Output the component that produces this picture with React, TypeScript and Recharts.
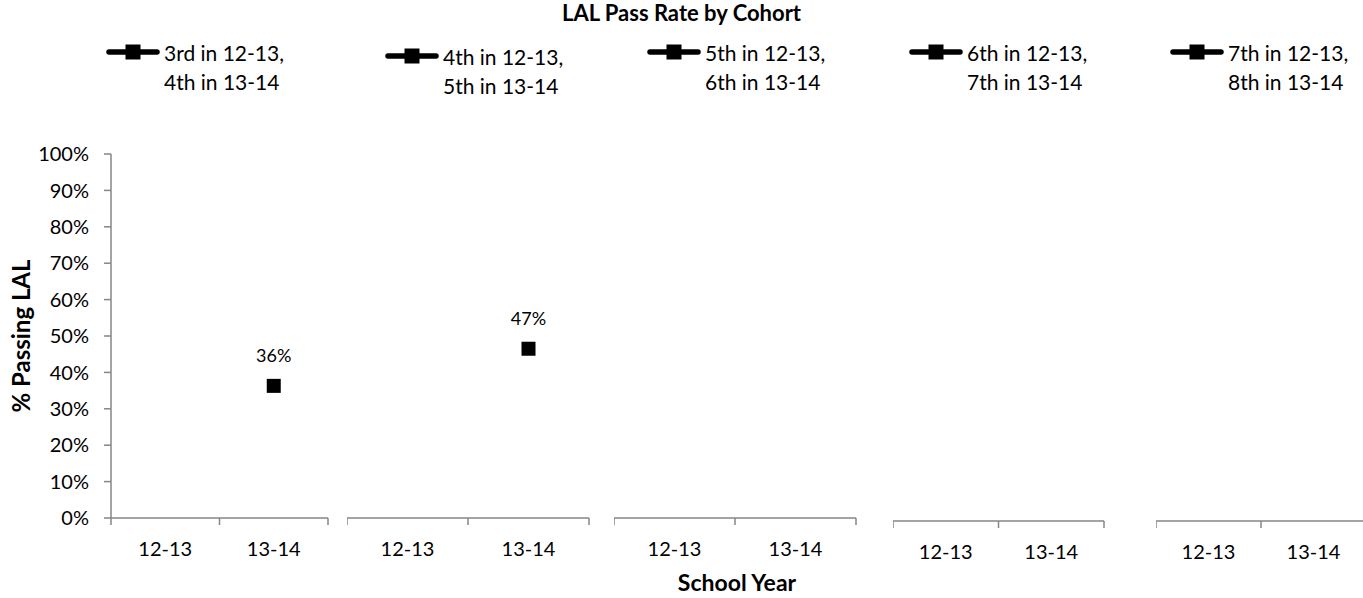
import React from 'react';
import { LineChart, Line, XAxis, YAxis, LabelList } from 'recharts';

// ---------- data ----------
const years = ['12-13', '13-14'];
const legendLine1 = ['3rd in 12-13,', '4th in 12-13,', '5th in 12-13,', '6th in 12-13,', '7th in 12-13,'];
const legendLine2 = ['4th in 13-14', '5th in 13-14', '6th in 13-14', '7th in 13-14', '8th in 13-14'];
const cohort1: (number | null)[] = [null, 36.3];
const cohort2: (number | null)[] = [null, 46.5];
const cohort3: (number | null)[] = [null, null];
const cohort4: (number | null)[] = [null, null];
const cohort5: (number | null)[] = [null, null];
const yTicks = [0, 10, 20, 30, 40, 50, 60, 70, 80, 90, 100];
const chartTitle = 'LAL Pass Rate by Cohort';
const yAxisTitle = '% Passing LAL';
const xAxisTitle = 'School Year';

const seriesList = [cohort1, cohort2, cohort3, cohort4, cohort5];

// ---------- layout ----------
const W = 1363;
const H = 598;
const PLOT_TOP = 154;
const PLOT_BOTTOM = 518;
const X_AXIS_H = 50;
const FONT = 'Lato, "Open Sans", sans-serif';
const AXIS_COLOR = '#868686';
const panels = [
  { start: 111, end: 328, dy: 0 },
  { start: 347, end: 589, dy: 0 },
  { start: 614, end: 856, dy: 0 },
  { start: 893, end: 1104, dy: 3 },
  { start: 1156, end: 1366, dy: 3 },
];
const legendPos = [
  { x: 106, y: 52 },
  { x: 385, y: 56 },
  { x: 647, y: 52 },
  { x: 909, y: 52 },
  { x: 1170, y: 52 },
];

const renderDot = (props: any) => {
  const { cx, cy, index } = props;
  if (cy == null || cx == null || Number.isNaN(cy)) return <g key={`d${index}`} />;
  return <rect key={`d${index}`} x={cx - 7} y={cy - 7} width={14} height={14} fill="#000" />;
};

function Panel({ idx }: { idx: number }) {
  const p = panels[idx];
  const first = idx === 0;
  const yAxisW = first ? p.start : 0;
  const left = first ? 0 : p.start;
  const pw = p.end - p.start;
  const width = yAxisW + pw + 2;
  const data = years.map((year, i) => ({ year, value: seriesList[idx][i] }));
  const bw = pw / years.length;

  const renderTick = (props: any) => {
    const { x, y, payload, index } = props;
    const ax = PLOT_BOTTOM;
    return (
      <g>
        <line x1={x - bw / 2} x2={x - bw / 2} y1={ax} y2={ax + 7} stroke={AXIS_COLOR} strokeWidth={1.5} />
        {index === years.length - 1 && (
          <line x1={x + bw / 2} x2={x + bw / 2} y1={ax} y2={ax + 7} stroke={AXIS_COLOR} strokeWidth={1.5} />
        )}
        <text x={x} y={y} dy="0.71em" textAnchor="middle" fill="#000" fontSize={20} fontFamily={FONT}>
          {payload.value}
        </text>
      </g>
    );
  };

  return (
    <div style={{ position: 'absolute', left, top: p.dy }}>
      <LineChart
        width={width}
        height={H}
        data={data}
        margin={{ top: PLOT_TOP, right: 2, bottom: H - PLOT_BOTTOM - X_AXIS_H, left: 0 }}
      >
        <XAxis
          dataKey="year"
          scale="band"
          height={X_AXIS_H}
          axisLine={{ stroke: AXIS_COLOR, strokeWidth: 1.5 }}
          tickLine={false}
          tickSize={7}
          tickMargin={17}
          interval={0}
          tick={renderTick}
        />
        <YAxis
          type="number"
          domain={[0, 100]}
          ticks={yTicks}
          hide={!first}
          width={yAxisW}
          axisLine={{ stroke: AXIS_COLOR, strokeWidth: 1.5 }}
          tickLine={{ stroke: AXIS_COLOR, strokeWidth: 1.5 }}
          tickSize={7}
          tickMargin={15}
          interval={0}
          tickFormatter={(v: number) => `${v}%`}
          tick={{ fill: '#000', fontSize: 20, fontFamily: FONT }}
        />
        <Line
          dataKey="value"
          stroke="#000"
          strokeWidth={4}
          dot={renderDot}
          activeDot={false}
          connectNulls={false}
          isAnimationActive={false}
        >
          <LabelList
            dataKey="value"
            position="top"
            offset={24}
            fill="#000"
            fontSize={18}
            fontFamily={FONT}
            formatter={(v: any) => (v == null ? '' : `${Math.round(Number(v))}%`)}
          />
        </Line>
      </LineChart>
    </div>
  );
}

export default function App() {
  return (
    <div
      style={{
        position: 'absolute',
        left: 0,
        top: 0,
        width: W,
        height: H,
        overflow: 'hidden',
        background: '#fff',
        fontFamily: FONT,
      }}
    >
      {panels.map((_, i) => (
        <Panel key={i} idx={i} />
      ))}
      <svg
        width={W}
        height={H}
        style={{ position: 'absolute', left: 0, top: 0, pointerEvents: 'none' }}
        fontFamily={FONT}
      >
        <text x={681.5} y={21} textAnchor="middle" fontWeight="bold" fontSize={22} fill="#000">
          {chartTitle}
        </text>
        <text
          x={30}
          y={336}
          transform="rotate(-90 30 336)"
          textAnchor="middle"
          fontWeight="bold"
          fontSize={24}
          fill="#000"
        >
          {yAxisTitle}
        </text>
        <text x={737} y={591} textAnchor="middle" fontWeight="bold" fontSize={23} fill="#000">
          {xAxisTitle}
        </text>
        {legendPos.map((lp, i) => (
          <g key={i}>
            <line x1={lp.x + 3} x2={lp.x + 51} y1={lp.y} y2={lp.y} stroke="#000" strokeWidth={5.5} strokeLinecap="round" />
            <rect x={lp.x + 19.5} y={lp.y - 7.5} width={15} height={15} fill="#000" />
            <text x={lp.x + 58} y={lp.y + 9} fontSize={21} fill="#000">
              {legendLine1[i]}
            </text>
            <text x={lp.x + 58} y={lp.y + 38} fontSize={21} fill="#000">
              {legendLine2[i]}
            </text>
          </g>
        ))}
      </svg>
    </div>
  );
}
